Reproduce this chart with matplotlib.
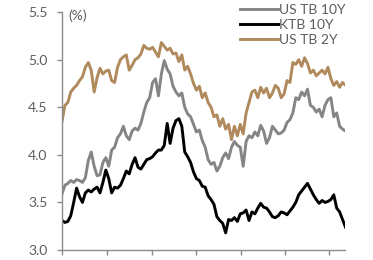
import matplotlib
matplotlib.use("Agg")
import matplotlib.pyplot as plt
import matplotlib.dates as mdates
import pandas as pd

dates = pd.date_range("2023-05-01", periods=98, freq="4D")

us_2y = [4.35, 4.52, 4.55, 4.66, 4.70, 4.73, 4.78, 4.82, 4.92, 4.97,
         4.89, 4.66, 4.81, 4.91, 4.85, 4.88, 4.89, 4.78, 4.76, 4.92,
         5.00, 5.03, 5.05, 4.89, 4.94, 5.00, 5.02, 5.06, 5.15, 5.12,
         5.11, 5.13, 5.08, 5.03, 5.18, 5.14, 5.10, 5.12, 5.06, 5.07,
         4.98, 5.05, 4.89, 4.93, 4.85, 4.75, 4.68, 4.72, 4.60, 4.65,
         4.55, 4.50, 4.40, 4.42, 4.30, 4.38, 4.27, 4.32, 4.16, 4.30,
         4.20, 4.32, 4.22, 4.44, 4.55, 4.66, 4.68, 4.60, 4.71, 4.65,
         4.70, 4.60, 4.65, 4.73, 4.70, 4.60, 4.64, 4.78, 4.76, 4.97,
         4.95, 5.00, 4.93, 5.02, 4.96, 4.86, 4.89, 4.83, 4.86, 4.89,
         4.85, 4.92, 4.80, 4.73, 4.77, 4.71, 4.76, 4.73]

us_10y = [3.59, 3.68, 3.70, 3.73, 3.71, 3.74, 3.73, 3.71, 3.76, 3.94,
          4.03, 3.88, 3.78, 3.79, 3.92, 3.97, 3.88, 4.05, 4.08, 4.18,
          4.22, 4.30, 4.20, 4.16, 4.25, 4.28, 4.26, 4.33, 4.45, 4.55,
          4.60, 4.76, 4.80, 4.62, 4.85, 4.99, 4.90, 4.85, 4.72, 4.66,
          4.62, 4.65, 4.50, 4.43, 4.40, 4.32, 4.24, 4.26, 4.15, 4.08,
          3.95, 3.90, 3.92, 3.83, 3.88, 3.97, 4.02, 3.96, 4.08, 4.14,
          4.10, 4.08, 3.88, 4.14, 4.20, 4.18, 4.24, 4.20, 4.31, 4.25,
          4.12, 4.18, 4.30, 4.26, 4.22, 4.23, 4.26, 4.34, 4.37, 4.44,
          4.60, 4.58, 4.66, 4.62, 4.69, 4.52, 4.50, 4.45, 4.48, 4.40,
          4.52, 4.58, 4.60, 4.40, 4.44, 4.30, 4.27, 4.25]

ktb_10y = [3.31, 3.29, 3.30, 3.36, 3.50, 3.65, 3.56, 3.50, 3.60, 3.63,
           3.61, 3.64, 3.66, 3.60, 3.71, 3.84, 3.75, 3.60, 3.66, 3.65,
           3.68, 3.75, 3.83, 3.80, 3.90, 3.97, 3.87, 3.85, 3.90, 3.95,
           3.96, 3.98, 4.02, 4.05, 4.05, 4.10, 4.33, 4.12, 4.28, 4.36,
           4.38, 4.30, 4.03, 3.98, 3.92, 3.82, 3.75, 3.73, 3.67, 3.66,
           3.57, 3.53, 3.48, 3.35, 3.31, 3.28, 3.18, 3.32, 3.31, 3.34,
           3.30, 3.38, 3.39, 3.42, 3.31, 3.40, 3.38, 3.44, 3.49, 3.45,
           3.44, 3.40, 3.35, 3.34, 3.36, 3.40, 3.39, 3.37, 3.41, 3.45,
           3.50, 3.58, 3.62, 3.66, 3.70, 3.64, 3.58, 3.53, 3.49, 3.52,
           3.50, 3.51, 3.53, 3.58, 3.44, 3.40, 3.32, 3.24]

labels = ["US TB 10Y", "KTB 10Y", "US TB 2Y"]
colors = ["#858585", "#000000", "#b08a5c"]
text_color = "#5e5e5e"

plt.rcParams["font.family"] = ["Lato", "DejaVu Sans"]

fig = plt.figure(figsize=(3.73, 2.60), dpi=100)
ax = fig.add_axes([0.1662, 0.0385, 0.760, 0.915])

for series, label, color in zip([us_10y, ktb_10y, us_2y], labels, colors):
    ax.plot(dates, series, color=color, lw=2.1, label=label)

ax.set_ylim(3.0, 5.5)
ax.set_yticks([3.0, 3.5, 4.0, 4.5, 5.0, 5.5])
ax.set_yticklabels(["3.0", "3.5", "4.0", "4.5", "5.0", "5.5"])
ax.set_xlim(dates[0], dates[-1])
ax.xaxis.set_major_locator(mdates.MonthLocator(bymonth=[1, 3, 5, 7, 9, 11]))
ax.xaxis.set_major_formatter(mdates.DateFormatter("%y.%m"))

for side in ["top", "right"]:
    ax.spines[side].set_visible(False)
for side in ["left", "bottom"]:
    ax.spines[side].set_color("#8c8c8c")
    ax.spines[side].set_linewidth(1.0)
ax.tick_params(axis="both", colors="#8c8c8c", labelcolor=text_color,
               labelsize=10, length=3.6, width=1.0)
ax.tick_params(axis="y", pad=7)
ax.tick_params(axis="x", pad=4.5)

ax.text(0.021, 1.013, "(%)", transform=ax.transAxes, fontsize=10,
        color=text_color, va="top", ha="left")

leg = ax.legend(loc="upper left", bbox_to_anchor=(240 / 373, 1 - 4 / 260),
                bbox_transform=fig.transFigure,
                frameon=False, fontsize=10, handlelength=2.7,
                handletextpad=0.08, labelspacing=0.22, borderpad=0,
                borderaxespad=0)
for t in leg.get_texts():
    t.set_color(text_color)

fig.savefig("out.png", dpi=100)
